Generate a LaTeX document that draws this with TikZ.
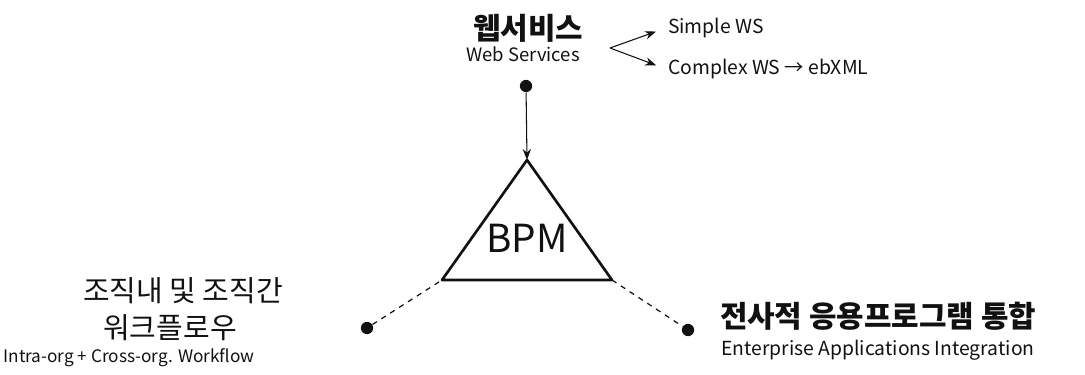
\documentclass[tikz,border=0pt]{standalone}
\usepackage{fontspec}
\setmainfont{Noto Sans CJK KR}
\usepackage{tikz}
\usetikzlibrary{arrows.meta,positioning}
\definecolor{ink}{HTML}{111111}
\tikzset{
  title/.style ={inner sep=1pt,font=\fontsize{16.5}{18}\selectfont,text=ink},
  bigtitle/.style={inner sep=1pt,font=\fontsize{17}{19}\selectfont\bfseries,text=ink},
  sub/.style   ={inner sep=1pt,font=\fontsize{10.5}{12}\selectfont,text=ink},
  dot/.style   ={circle,fill=ink,inner sep=0pt,minimum size=7pt},
  flow/.style  ={-{Stealth[length=2.2mm]},line width=0.6pt,draw=ink},
  link/.style  ={line width=0.7pt,draw=ink,dashed},
  tri/.style   ={line width=1.5pt,draw=ink,line join=round}
}
\begin{document}
\begin{tikzpicture}[x=0.02cm,y=-0.02cm]
  \useasboundingbox (0,0) rectangle (1085,375);
  % web services
  \node[title,font=\fontsize{17}{19}\selectfont\bfseries] (ws) at (528,28) {웹서비스};
  \node[sub] (wsen) at (523,54) {Web Services};
  \node[dot] (wsdot) at (526,86) {};
  \coordinate (fork) at (610,48);
  \node[sub,anchor=west,font=\fontsize{11}{13}\selectfont] (simple) at (666,28) {Simple WS};
  \node[sub,anchor=west,font=\fontsize{11}{13}\selectfont] (complex) at (666,69) {Complex WS → ebXML};
  \draw[flow,shorten >=6pt] (fork) -- (simple.west);
  \draw[flow,shorten >=6pt] (fork) -- (complex.west);
  % BPM triangle
  \coordinate (top) at (527,160);
  \coordinate (bl) at (442,280);
  \coordinate (br) at (612,280);
  \draw[tri] (top) -- (bl) -- (br) -- cycle;
  \node[inner sep=0pt,font=\fontsize{22}{24}\selectfont,text=ink] (bpm) at (527,238) {BPM};
  \draw[flow] (wsdot) -- (top);
  % workflow
  \node[dot] (wfdot) at (367,328) {};
  \node[title] (wf1) at (183,291) {조직내 및 조직간};
  \node[title] (wf2) at (170,328) {워크플로우};
  \node[sub,font=\fontsize{9.8}{12}\selectfont] (wfen) at (129,358) {Intra-org + Cross-org. Workflow};
  \draw[link] (wfdot) -- (bl);
  % EAI
  \node[dot] (eaidot) at (688,330) {};
  \node[bigtitle] (eai) at (878,316) {전사적 응용프로그램 통합};
  \node[sub,font=\fontsize{11}{13}\selectfont] (eaien) at (878,350) {Enterprise Applications Integration};
  \draw[link] (br) -- (eaidot);
\end{tikzpicture}
\end{document}
